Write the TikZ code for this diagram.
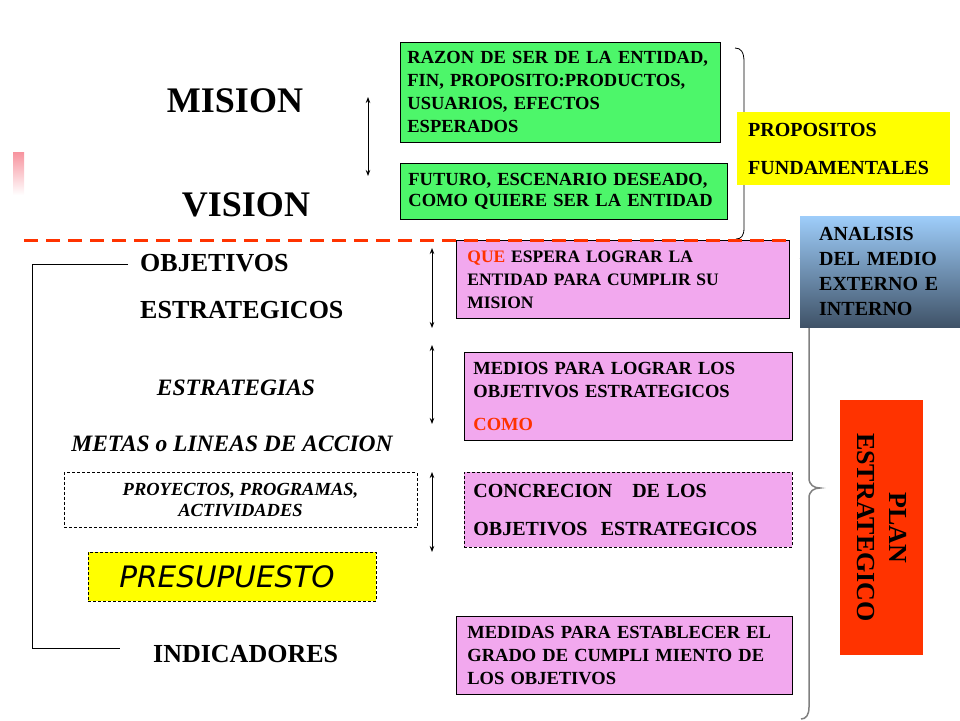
\documentclass[tikz,border=0pt]{standalone}
\usepackage{fontspec}
\setmainfont{Liberation Serif}
\newfontfamily\presfont{DejaVu Sans}
\usetikzlibrary{arrows.meta}
\definecolor{verde}{HTML}{4DF66A}
\definecolor{rosa}{HTML}{F2A8EE}
\definecolor{amarillo}{HTML}{FFFF00}
\definecolor{rojo}{HTML}{FF3300}
\definecolor{celeste}{HTML}{9ECDFA}
\definecolor{pizarra}{HTML}{3F5267}
\definecolor{rosaclaro}{HTML}{F7939E}
\newcommand\apretado{\spaceskip=0.14em\relax}

\begin{document}
\begin{tikzpicture}[x=1pt,y=-1pt,>={Stealth[length=6pt,width=4.5pt]},
    bloque/.style={rectangle,anchor=north west,align=left,inner ysep=0pt},
    caja/.style={bloque,draw,line width=0.8pt},
    textobox/.style={font=\fontsize{18.5}{23}\selectfont\bfseries},
    textoapretado/.style 2 args={font=\fontsize{#1}{#2}\selectfont\bfseries\apretado},
    titulo/.style={font=\fontsize{36}{40}\selectfont\bfseries,inner sep=0pt},
    nivel/.style={font=\fontsize{26}{30}\selectfont\bfseries,inner sep=0pt,anchor=west},
    nivelit/.style={font=\fontsize{23.5}{28}\selectfont\bfseries\itshape,inner sep=0pt},
    flecha/.style={<->,line width=0.8pt},
    punteado/.style={dash pattern=on 3pt off 2pt}]

    \useasboundingbox (0,0) rectangle (960,720);

    % marca de la diapositiva
    \shade[top color=rosaclaro,bottom color=white] (13,152) rectangle (24,195);

    % mision y vision
    \node[titulo] (mision) at (235,101) {MISION};
    \node[titulo] (vision) at (246,205) {VISION};
    \coordinate (mv arriba) at (368,97);
    \coordinate (mv abajo) at (368,176);
    \draw[flecha] (mv arriba) -- (mv abajo);

    \node[caja,fill=verde,textoapretado={18.5}{23},
          text width=306,inner xsep=7,minimum height=100] (razon) at (400,42)
        {RAZON DE SER DE LA ENTIDAD,\\ FIN, PROPOSITO:PRODUCTOS,\\ USUARIOS, EFECTOS\\ ESPERADOS};
    \node[caja,fill=verde,textoapretado={18.5}{21},
          text width=311,inner xsep=8,minimum height=56] (futuro) at (400,163)
        {FUTURO, ESCENARIO DESEADO,\\ COMO QUIERE SER LA ENTIDAD};

    % llave de propositos
    \draw[line width=0.8pt] (735,48) .. controls (741,48) and (744,52) .. (744,62) -- (744,136)
        .. controls (744,141) and (748,145) .. (753,145) .. controls (748,145) and (744,149) .. (744,154)
        -- (744,228) .. controls (744,236) and (741,239) .. (736,239);
    \node[bloque,fill=amarillo,font=\fontsize{20}{38}\selectfont\bfseries,
          text width=191,inner xsep=11,minimum height=73] (propositos) at (737,112)
        {PROPOSITOS\\ FUNDAMENTALES};

    % llave del plan
    \draw[gray,line width=1.5pt] (800,258) .. controls (806,258) and (809,262) .. (809,270) -- (809,478)
        .. controls (809,485) and (814,488) .. (820,488) .. controls (814,488) and (809,491) .. (809,498)
        -- (809,707) .. controls (809,715) and (806,719) .. (801,719);
    \node[bloque,top color=celeste,bottom color=pizarra,font=\fontsize{20}{25}\selectfont\bfseries,
          text width=122,inner xsep=19,minimum height=111] (analisis) at (800,216)
        {ANALISIS\\ DEL MEDIO\\ EXTERNO E\\ INTERNO};
    \node[fill=rojo,rotate=-90,minimum width=255,minimum height=83,align=center,
          font=\fontsize{26}{32}\selectfont\bfseries] (plan) at (881.5,527.5)
        {PLAN\\ ESTRATEGICO};

    % niveles del plan
    \node[nivel] (objetivos) at (140,263) {OBJETIVOS};
    \node[nivel] (estrategicos) at (140,310) {ESTRATEGICOS};
    \node[nivelit] (estrategias) at (236,388) {ESTRATEGIAS};
    \node[nivelit] (metas) at (232,444) {METAS o LINEAS DE ACCION};
    \node[draw,punteado,line width=0.8pt,minimum width=353,minimum height=55,align=center,
          font=\fontsize{18.5}{21}\selectfont\bfseries\itshape] (proyectos) at (240.5,500)
        {PROYECTOS, PROGRAMAS,\\ ACTIVIDADES};
    \node[caja,punteado,fill=amarillo,font=\presfont\itshape\fontsize{29.5}{32}\selectfont,
          text width=226,inner xsep=31,minimum height=49] (presupuesto) at (88,552) {PRESUPUESTO};
    \node[nivel] (indicadores) at (153,654) {INDICADORES};

    \coordinate (corchete arriba) at (128,264);
    \coordinate (corchete abajo) at (120,648);
    \draw[line width=0.8pt] (corchete arriba) -- ++(-96,0) |- (corchete abajo);

    % cajas de la derecha
    \node[caja,fill=rosa,textoapretado={17.5}{23},text width=311,inner xsep=11,minimum height=78] (que) at (456,240)
        {\textcolor{rojo}{QUE} ESPERA LOGRAR LA\\ ENTIDAD PARA CUMPLIR SU\\ MISION};
    \node[caja,fill=rosa,textobox,text width=310,inner xsep=9,minimum height=88] (medios) at (464,352)
        {MEDIOS PARA LOGRAR LOS\\ OBJETIVOS ESTRATEGICOS\\[10pt] \textcolor{rojo}{COMO}};
    \node[caja,punteado,fill=rosa,font=\fontsize{20}{38}\selectfont\bfseries,
          text width=310,inner xsep=9,minimum height=75] (concrecion) at (464,472)
        {CONCRECION\ \ \ DE LOS\\ OBJETIVOS\ \ ESTRATEGICOS};
    \node[caja,fill=rosa,textobox,text width=314,inner xsep=11,minimum height=78] (medidas) at (456,616)
        {MEDIDAS PARA ESTABLECER EL\\ GRADO DE CUMPLI MIENTO DE\\ LOS OBJETIVOS};

    \foreach \n/\a/\b in {1/248/328,2/345/424,3/472/552} {
        \coordinate (f\n arriba) at (432,\a);
        \coordinate (f\n abajo) at (432,\b);
        \draw[flecha] (f\n arriba) -- (f\n abajo);
    }

    % linea de corte
    \coordinate (corte izq) at (24,240);
    \coordinate (corte der) at (792,240);
    \draw[rojo,line width=3pt,dash pattern=on 14pt off 8pt] (corte izq) -- (corte der);

\end{tikzpicture}
\end{document}
